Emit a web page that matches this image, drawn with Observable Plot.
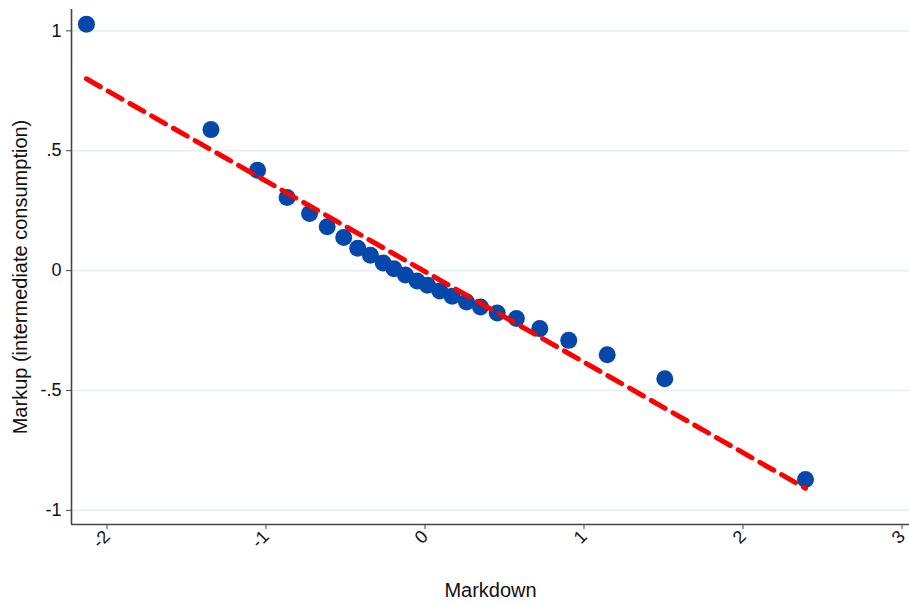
<!DOCTYPE html>
<html>
<head>
<meta charset="utf-8">
<script src="https://cdn.jsdelivr.net/npm/d3@7"></script>
<script src="https://cdn.jsdelivr.net/npm/@observablehq/plot@0.6"></script>
<style>
  html, body { margin: 0; padding: 0; background: #fff; }
  #chart svg { display: block; }
</style>
</head>
<body>
<div id="chart"></div>
<script>
// Binned scatter: markdown (x) vs markup (y)
const markdown = [-2.129, -1.346, -1.053, -0.867, -0.726, -0.615, -0.511, -0.423, -0.343, -0.263,
                  -0.195, -0.123, -0.050, 0.016, 0.093, 0.171, 0.261, 0.349, 0.454, 0.575,
                  0.722, 0.904, 1.146, 1.508, 2.393];
const markup = [1.028, 0.588, 0.419, 0.305, 0.238, 0.183, 0.138, 0.093, 0.064, 0.032,
                0.008, -0.018, -0.043, -0.061, -0.085, -0.107, -0.131, -0.152, -0.177, -0.200,
                -0.242, -0.291, -0.351, -0.451, -0.871];
// Linear fit endpoints
const fitX = [-2.129, 2.393];
const fitY = [0.800, -0.908];
// Axes
const xTicks = [-2, -1, 0, 1, 2, 3];
const xTickLabels = ["-2", "-1", "0", "1", "2", "3"];
const yTicks = [-1, -0.5, 0, 0.5, 1];
const yTickLabels = ["-1", "-.5", "0", ".5", "1"];
const xDomain = [-2.223, 3.047];
const yDomain = [-1.059, 1.089];

const points = markdown.map((x, i) => ({x, y: markup[i]}));
const fit = fitX.map((x, i) => ({x, y: fitY[i]}));

const chart = Plot.plot({
  width: 909,
  height: 603,
  marginLeft: 71,
  marginRight: 0,
  marginTop: 9,
  marginBottom: 79,
  style: {fontFamily: "'Liberation Sans', Arial, sans-serif", background: "#fff", color: "#111"},
  x: {domain: xDomain},
  y: {domain: yDomain},
  marks: [
    Plot.gridY(yTicks, {stroke: "#e6eef1", strokeOpacity: 1, strokeWidth: 1.6}),
    Plot.ruleX([xDomain[0]], {stroke: "#444", strokeWidth: 1.6}),
    Plot.ruleY([yDomain[0]], {stroke: "#444", strokeWidth: 1.6}),
    Plot.axisY(yTicks, {
      tickSize: 5, tickPadding: 5, stroke: "#444",
      tickFormat: (d) => yTickLabels[yTicks.indexOf(d)],
      fontSize: 18, label: null
    }),
    Plot.axisX(xTicks, {
      tickSize: 5, tickPadding: 4, tickRotate: -45, stroke: "#444",
      tickFormat: (d) => xTickLabels[xTicks.indexOf(d)],
      fontSize: 18, label: null
    }),
    Plot.text(["Markup (intermediate consumption)"], {
      frameAnchor: "left", textAnchor: "middle", dx: -51, dy: 10, rotate: -90, fontSize: 20, fill: "#111"
    }),
    Plot.text(["Markdown"], {
      frameAnchor: "bottom", textAnchor: "middle", dy: 72, fontSize: 20, fill: "#111"
    }),
    Plot.dot(points, {x: "x", y: "y", r: 8.5, fill: "#0547ab", stroke: "none"}),
    Plot.line(fit, {x: "x", y: "y", stroke: "#ff0000", strokeWidth: 5, strokeDasharray: "16,9"})
  ]
});
document.getElementById("chart").appendChild(chart);
</script>
</body>
</html>
